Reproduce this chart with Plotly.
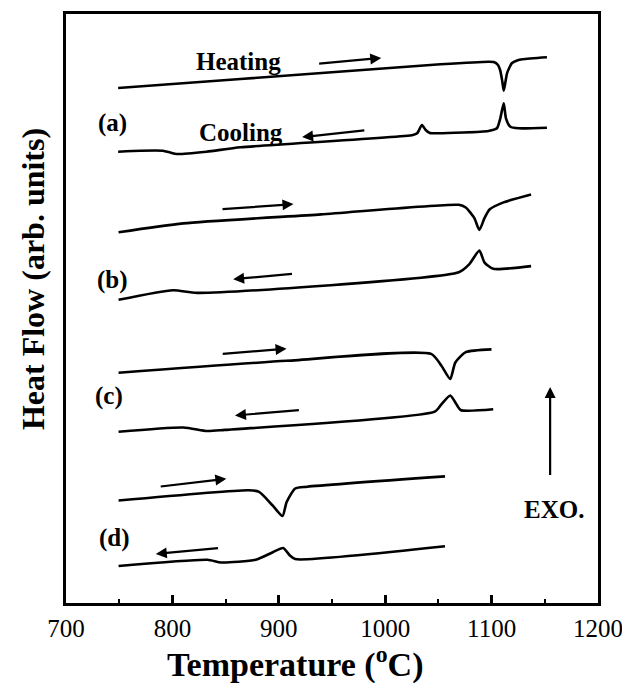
import plotly.graph_objects as go

# ---------------- data (Temperature in °C, heat flow in arb. units) ----------------
a_heat_T = [749, 864, 1052, 1097, 1102, 1106, 1108, 1110, 1111.4, 1113, 1114.5, 1117, 1119, 1124, 1129, 1152]
a_heat_H = [515, 524, 538.7, 541.3, 541, 538, 533, 522, 512.3, 521, 529.7, 536, 539.7, 542.5, 543.7, 545.7]

a_cool_T = [749, 770, 791, 798, 804, 832, 864, 1026, 1030, 1034.6, 1038, 1042, 1050, 1097, 1105, 1108.2, 1111.4, 1113.5, 1117.6, 1125.5, 1152]
a_cool_H = [451.3, 452.3, 452.3, 450.5, 449, 451.3, 455.7, 468, 469.7, 478, 473, 470, 469.7, 472, 474.7, 484.7, 499.7, 484.7, 476.3, 474.7, 475.3]

b_heat_T = [749.4, 810.2, 939.7, 1069.2, 1075.7, 1083.7, 1088.5, 1093.4, 1098.3, 1111.2, 1137.1]
b_heat_H = [370.7, 379.6, 388.6, 398.2, 395.5, 385.1, 373.1, 385.1, 393.7, 400.6, 408.5]

b_cool_T = [749.4, 800.6, 823.2, 1069.2, 1078.9, 1088.5, 1093.4, 1101.5, 1137.1]
b_cool_H = [303.2, 312.8, 310.1, 330.7, 338.6, 352.4, 340.4, 334.2, 336.9]

c_heat_T = [749.4, 907.3, 1043.2, 1053.0, 1061.1, 1065.9, 1075.7, 1099.9]
c_heat_H = [230.2, 242.2, 249.1, 237, 224, 240.5, 250.8, 253.6]

c_cool_T = [749.4, 810.2, 832.8, 849.1, 1046.5, 1053, 1061.1, 1065.9, 1070.8, 1101.5]
c_cool_H = [171.3, 175.5, 172, 173.1, 191.3, 198.9, 207.5, 200.6, 193, 193.7]

d_heat_T = [749.4, 871.7, 881.5, 894.4, 903.5, 907.3, 915.4, 926.8, 1056.2]
d_heat_H = [102.5, 112.8, 111.1, 97.3, 87, 100.8, 114.5, 116.3, 126.6]

d_cool_T = [749.4, 832.9, 845.9, 878.2, 894.4, 904.1, 910.5, 915.4, 1056.2]
d_cool_H = [37, 43.2, 40.5, 43.2, 50.8, 55, 47.4, 43.9, 56.7]

# direction arrows: (tail T, tail H, head T, head H)
arrows = [
    (936.5, 539.3, 996.3, 545.1),
    (981.8, 472.8, 921.9, 465.9),
    (845.7, 393.7, 913.8, 398.9),
    (913.8, 329.3, 857.1, 323.8),
    (845.9, 249.1, 907.3, 254.3),
    (920.3, 193.0, 858.8, 187.5),
    (787.6, 116.3, 850.7, 124.2),
    (844.3, 55.0, 784.4, 49.1),
]
exo_arrow = (1155, 126.6, 1155, 216.1)

# text labels: (text, T, H)
labels = [
    ("Heating", 862, 542),
    ("Cooling", 864.5, 470.4),
    ("(a)", 744, 480),
    ("(b)", 743.9, 323.3),
    ("(c)", 740.7, 207.5),
    ("(d)", 745.5, 65),
    ("EXO.", 1158.2, 94),
]

x_ticks = [700, 800, 900, 1000, 1100, 1200]

FONT = "Liberation Serif"

fig = go.Figure()
curves = [(a_heat_T, a_heat_H), (a_cool_T, a_cool_H), (b_heat_T, b_heat_H), (b_cool_T, b_cool_H),
          (c_heat_T, c_heat_H), (c_cool_T, c_cool_H), (d_heat_T, d_heat_H), (d_cool_T, d_cool_H)]
for T, H in curves:
    fig.add_trace(go.Scatter(x=T, y=H, mode="lines",
                             line=dict(color="black", width=2.6, shape="spline", smoothing=0.6),
                             showlegend=False, hoverinfo="skip"))

ann = []
for tx, ty, hx, hy in arrows + [exo_arrow]:
    ann.append(dict(x=hx, y=hy, ax=tx, ay=ty, xref="x", yref="y", axref="x", ayref="y",
                    text="", showarrow=True, arrowhead=2, arrowsize=1.0, arrowwidth=2.2,
                    arrowcolor="black"))
for txt, lx, ly in labels:
    ann.append(dict(x=lx, y=ly, xref="x", yref="y", text="<b>%s</b>" % txt, showarrow=False,
                    font=dict(family=FONT, size=25, color="black"),
                    xanchor="center", yanchor="middle"))

ann.append(dict(x=0.43, y=-0.101, xref="paper", yref="paper",
                text="<b>Temperature (<sup>o</sup>C)</b>", showarrow=False,
                font=dict(family=FONT, size=34, color="black"),
                xanchor="center", yanchor="middle"))
ann.append(dict(x=-0.062, y=0.55, xref="paper", yref="paper", textangle=-90,
                text="<b>Heat Flow (arb. units)</b>", showarrow=False,
                font=dict(family=FONT, size=32, color="black"),
                xanchor="center", yanchor="middle"))

fig.update_layout(
    width=622, height=684,
    margin=dict(l=66, r=24, t=14, b=81, autoexpand=False),
    paper_bgcolor="white", plot_bgcolor="white",
    annotations=ann,
    xaxis=dict(range=[700, 1200], tickvals=x_ticks, ticktext=[str(v) for v in x_ticks],
               ticks="inside", ticklen=8, tickwidth=2.5, tickcolor="black",
               minor=dict(ticks="inside", ticklen=4, tickwidth=2, tickcolor="black", dtick=50, tick0=700),
               showline=True, linewidth=3, linecolor="black", mirror=True,
               showgrid=False, zeroline=False, ticklabelstandoff=1,
               ticklabeloverflow="allow", automargin=False,
               tickfont=dict(family=FONT, size=25, color="black")),
    yaxis=dict(range=[0, 589], showticklabels=False, ticks="",
               showline=True, linewidth=3, linecolor="black", mirror=True,
               showgrid=False, zeroline=False, automargin=False),
)

fig.write_html("out.html")
